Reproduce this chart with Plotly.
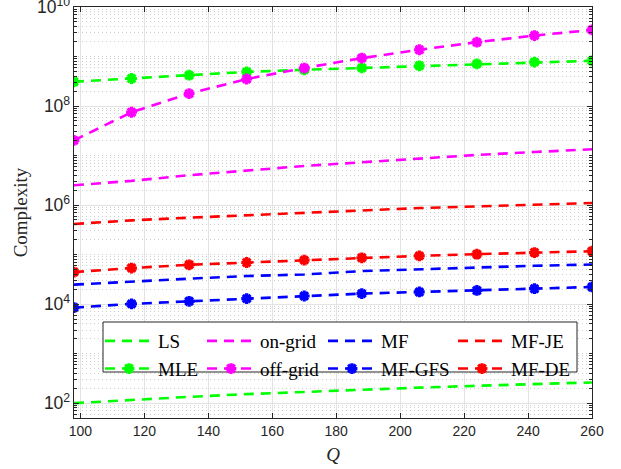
import plotly.graph_objects as go

# Number of grid points Q
Q = [98, 116, 134, 152, 170, 188, 206, 224, 242, 260]

# Complexity of each estimator
ls = [100, 117, 134, 152, 170, 188, 206, 224, 242, 262]
mle = [3.1e8, 3.6e8, 4.2e8, 4.9e8, 5.4e8, 5.9e8, 6.5e8, 7.1e8, 7.7e8, 8.2e8]
on_grid = [2.52e6, 3.08e6, 4.01e6, 5.06e6, 6.17e6, 7.31e6, 8.69e6, 1.03e7, 1.18e7, 1.34e7]
off_grid = [2.03e7, 7.5e7, 1.78e8, 3.52e8, 5.86e8, 9.31e8, 1.37e9, 1.95e9, 2.65e9, 3.45e9]
mf = [2.47e4, 2.87e4, 3.26e4, 3.69e4, 3.97e4, 4.65e4, 5.09e4, 5.60e4, 5.94e4, 6.31e4]
mf_gfs = [8.51e3, 1.01e4, 1.14e4, 1.29e4, 1.46e4, 1.63e4, 1.76e4, 1.89e4, 2.05e4, 2.22e4]
mf_je = [4.15e5, 4.92e5, 5.56e5, 6.21e5, 6.90e5, 7.93e5, 8.71e5, 9.42e5, 1.01e6, 1.10e6]
mf_de = [4.44e4, 5.35e4, 6.22e4, 6.92e4, 7.74e4, 8.61e4, 9.44e4, 1.02e5, 1.10e5, 1.17e5]

x_ticks = [100, 120, 140, 160, 180, 200, 220, 240, 260]

GREEN, MAGENTA, BLUE, RED = "#00ff00", "#ff00ff", "#0000ff", "#ff0000"
DASH = "10px,7px"
SERIF = "Liberation Serif"
SANS = "Liberation Sans"
AXC = "#262626"

series = [
    ("LS", ls, GREEN, False, "legend"),
    ("MLE", mle, GREEN, True, "legend"),
    ("on-grid", on_grid, MAGENTA, False, "legend2"),
    ("off-grid", off_grid, MAGENTA, True, "legend2"),
    ("MF", mf, BLUE, False, "legend3"),
    ("MF-GFS", mf_gfs, BLUE, True, "legend3"),
    ("MF-JE", mf_je, RED, False, "legend4"),
    ("MF-DE", mf_de, RED, True, "legend4"),
]

fig = go.Figure()
for name, vals, color, with_marker, leg in series:
    fig.add_trace(go.Scatter(
        x=Q, y=vals, name=name, legend=leg,
        mode="lines+markers" if with_marker else "lines",
        line=dict(color=color, width=2.6, dash=DASH),
        marker=dict(symbol="asterisk", size=9, color=color,
                    line=dict(color=color, width=3.2)),
    ))

W, H = 621, 469
L, R, T, B = 74, 29, 7, 51
pw, ph = W - L - R, H - T - B

def px_x(p):
    return (p - L) / pw

def px_y(p):
    return (H - B - p) / ph

fig.update_layout(
    width=W, height=H,
    margin=dict(l=L, r=R, t=T, b=B),
    plot_bgcolor="white", paper_bgcolor="white",
    font=dict(family=SANS, size=14, color=AXC),
    xaxis=dict(
        range=[98, 260], tickmode="array", tickvals=x_ticks, ticks="inside", ticklen=5,
        tickcolor=AXC, showline=True, linecolor=AXC, linewidth=1, mirror="ticks",
        showgrid=True, gridcolor="#e3e3e3", gridwidth=1, zeroline=False,
        tickfont=dict(family=SANS, size=14, color=AXC),
        title=dict(text="<i>Q</i>", font=dict(family=SERIF, size=19, color=AXC), standoff=9),
        automargin=False,
    ),
    yaxis=dict(
        type="log", range=[1.7, 10.0005], tick0=0, dtick=2, exponentformat="power",
        showexponent="all", ticklabeloverflow="allow",
        ticks="inside", ticklen=5, tickcolor=AXC,
        showline=True, linecolor=AXC, linewidth=1, mirror="ticks",
        showgrid=True, gridcolor="#e3e3e3", gridwidth=1, zeroline=False,
        tickfont=dict(family=SANS, size=14, color=AXC),
        title=dict(text="Complexity", font=dict(family=SERIF, size=19, color=AXC), standoff=4),
        minor=dict(dtick="D1", ticks="inside", ticklen=3, tickcolor=AXC,
                   showgrid=True, gridcolor="#cfcfcf", griddash="1px,3px", gridwidth=1),
        automargin=False,
    ),
    shapes=[dict(type="rect", xref="paper", yref="paper", layer="above",
                 x0=px_x(103), x1=px_x(577), y0=px_y(372), y1=px_y(322),
                 fillcolor="white", line=dict(color=AXC, width=1))],
)

leg_common = dict(
    xref="paper", yref="paper", xanchor="left", yanchor="top",
    bgcolor="rgba(0,0,0,0)", borderwidth=0, orientation="v",
    font=dict(family=SERIF, size=19, color="black"), itemwidth=48,
    tracegroupgap=0,
)
leg_x = [100, 202, 323, 453]
leg_top = 322
for i, key in enumerate(["legend", "legend2", "legend3", "legend4"]):
    fig.update_layout({key: dict(leg_common, x=px_x(leg_x[i]), y=px_y(leg_top))})

fig.write_html("out.html")
